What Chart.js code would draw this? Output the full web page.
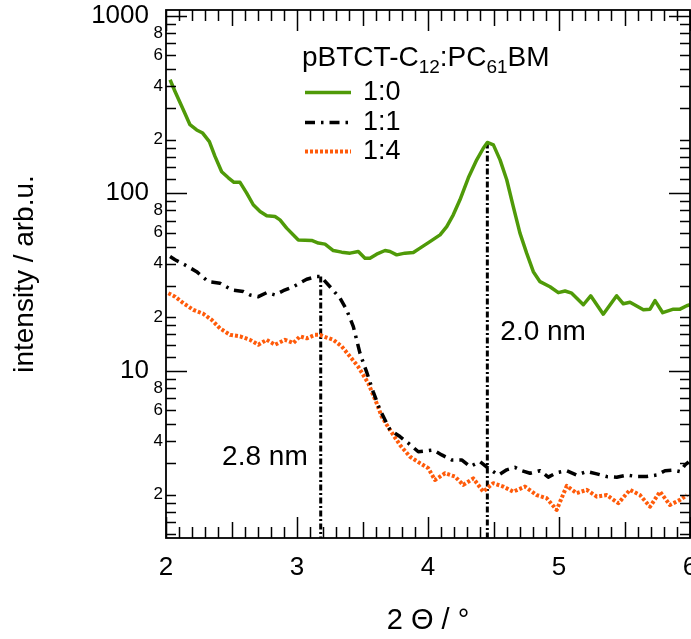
<!DOCTYPE html>
<html>
<head>
<meta charset="utf-8">
<script src="https://cdn.jsdelivr.net/npm/chart.js@4.4.1/dist/chart.umd.min.js"></script>
<style>
  html, body { margin: 0; padding: 0; background: #fff; }
  #c { display: block; }
</style>
</head>
<body>
<canvas id="c" width="691" height="639"></canvas>
<script>
// ---- diffraction data: 2θ (deg) and intensity (arb. units) ----
const theta10 = [2.031, 2.069, 2.132, 2.183, 2.234, 2.280, 2.331, 2.374, 2.425, 2.476, 2.519, 2.565, 2.616, 2.666, 2.718, 2.769, 2.832, 2.870, 2.921, 3.010, 3.112, 3.163, 3.214, 3.277, 3.341, 3.405, 3.468, 3.519, 3.557, 3.608, 3.672, 3.710, 3.761, 3.824, 3.888, 3.939, 4.015, 4.092, 4.143, 4.193, 4.244, 4.308, 4.372, 4.422, 4.453, 4.499, 4.550, 4.601, 4.651, 4.702, 4.753, 4.804, 4.855, 4.931, 4.995, 5.046, 5.097, 5.186, 5.242, 5.338, 5.440, 5.491, 5.542, 5.644, 5.695, 5.733, 5.792, 5.873, 5.924, 5.975, 6.000];
const int10 = [435, 374, 295, 243, 227, 218, 195, 161, 132, 122, 115, 115, 100, 86, 78.8, 74.5, 73.8, 70.7, 63.5, 54.5, 54.1, 52.3, 51.6, 47.5, 46.5, 45.9, 46.9, 43.0, 43.0, 45.3, 47.5, 46.9, 44.9, 45.9, 46.3, 49.0, 53.3, 58.2, 64.8, 75.5, 91.7, 122, 154, 179, 193, 187, 154, 119, 84.0, 59.5, 45.9, 36.1, 31.7, 29.7, 27.5, 28.1, 27.3, 23.5, 26.4, 20.8, 26.4, 23.8, 24.3, 22.0, 22.2, 24.8, 21.2, 22.2, 22.2, 23.2, 23.5];

const theta11 = [2.031, 2.069, 2.145, 2.234, 2.323, 2.412, 2.502, 2.590, 2.641, 2.705, 2.769, 2.832, 2.895, 2.972, 3.074, 3.150, 3.181, 3.201, 3.252, 3.328, 3.379, 3.430, 3.481, 3.532, 3.582, 3.634, 3.710, 3.786, 3.850, 3.926, 4.040, 4.105, 4.181, 4.257, 4.321, 4.397, 4.460, 4.537, 4.601, 4.664, 4.715, 4.779, 4.855, 4.918, 4.982, 5.059, 5.135, 5.212, 5.288, 5.364, 5.440, 5.517, 5.593, 5.669, 5.746, 5.809, 5.873, 5.924, 5.962, 5.990];
const int11 = [43.9, 42.1, 39.4, 36.1, 31.7, 31.1, 28.5, 27.9, 26.7, 26.1, 27.5, 26.7, 28.2, 29.7, 32.7, 33.9, 33.9, 32.7, 29.7, 25.6, 22.0, 17.7, 12.5, 9.8, 7.59, 6.0, 4.63, 4.25, 3.90, 3.49, 3.57, 3.35, 3.14, 3.14, 2.88, 3.07, 2.82, 2.58, 2.76, 2.85, 2.73, 2.64, 2.73, 2.51, 2.66, 2.73, 2.58, 2.70, 2.62, 2.53, 2.51, 2.58, 2.53, 2.53, 2.58, 2.73, 2.75, 2.70, 2.94, 3.06];

const theta14 = [2.018, 2.069, 2.132, 2.208, 2.285, 2.349, 2.412, 2.489, 2.565, 2.641, 2.705, 2.769, 2.832, 2.908, 2.972, 3.023, 3.074, 3.137, 3.176, 3.201, 3.277, 3.341, 3.405, 3.468, 3.544, 3.608, 3.647, 3.710, 3.786, 3.863, 3.939, 4.002, 4.053, 4.130, 4.206, 4.269, 4.346, 4.422, 4.498, 4.575, 4.651, 4.740, 4.830, 4.906, 4.982, 5.059, 5.135, 5.212, 5.288, 5.364, 5.453, 5.542, 5.618, 5.695, 5.771, 5.847, 5.924, 5.975];
const int14 = [27.3, 26.1, 24.0, 22.0, 20.9, 19.3, 17.3, 15.9, 15.6, 14.9, 14.0, 14.9, 14.0, 14.9, 14.3, 15.6, 15.2, 15.9, 15.9, 15.6, 14.9, 13.7, 12.0, 10.5, 8.49, 6.55, 5.50, 4.63, 3.81, 3.27, 3.01, 2.82, 2.42, 2.64, 2.53, 2.27, 2.47, 2.08, 2.32, 2.22, 2.08, 2.22, 1.99, 1.91, 1.64, 2.24, 2.04, 2.13, 1.95, 1.99, 1.79, 2.13, 1.99, 1.71, 2.08, 1.75, 1.87, 1.99];

// reflections marked with their d-spacing
const peakTheta = [3.181, 4.453];
const peakTop = [33.9, 193];
const peakLabels = ['2.8 nm', '2.0 nm'];

// axes
const xMin = 2, xMax = 6;
const yMin = 1.14, yMax = 1076;
const xMajorLabels = ['2', '3', '4', '5', '6'];
const yTickValues = [1.2, 1.4, 1.6, 1.8, 2, 3, 4, 5, 6, 7, 8, 9,
  10, 12, 14, 16, 18, 20, 30, 40, 50, 60, 70, 80, 90,
  100, 120, 140, 160, 180, 200, 300, 400, 500, 600, 700, 800, 900, 1000];
const yMajorValues = [10, 100, 1000];
const yMinorLabelValues = [2, 4, 6, 8, 20, 40, 60, 80, 200, 400, 600, 800];

const seriesNames = ['1:0', '1:1', '1:4'];
const legendTitle = [['pBTCT-C', false], ['12', true], [':PC', false], ['61', true], ['BM', false]];

const FONT = "'Liberation Sans', Arial, Helvetica, sans-serif";
const GREEN = '#4f9a08';
const ORANGE = '#ff5b0a';

const pts = (xs, ys) => xs.map((v, i) => ({ x: v, y: ys[i] }));

const datasets = [
  { label: seriesNames[0], data: pts(theta10, int10), borderColor: GREEN, borderWidth: 3.5, borderDash: [] },
  { label: seriesNames[1], data: pts(theta11, int11), borderColor: '#000', borderWidth: 3.5, borderDash: [10, 6, 2.5, 6] },
  { label: seriesNames[2], data: pts(theta14, int14), borderColor: ORANGE, borderWidth: 4, borderDash: [3, 2] }
].map(d => Object.assign(d, { pointRadius: 0, tension: 0, fill: false, borderJoinStyle: 'round' }));

peakTheta.forEach((t, i) => {
  datasets.push({
    label: peakLabels[i], data: [{ x: t, y: peakTop[i] }, { x: t, y: yMin }],
    borderColor: '#000', borderWidth: 3, borderDash: [6, 2.5, 2, 2.5], pointRadius: 0, fill: false
  });
});

const framePlugin = {
  id: 'frameTicks',
  afterDatasetsDraw(chart) {
    const { ctx, chartArea: a, scales: { x, y } } = chart;
    ctx.save();
    ctx.strokeStyle = '#000';
    ctx.fillStyle = '#000';

    // inward ticks on all four sides
    ctx.lineWidth = 1.5;
    ctx.beginPath();
    for (let i = 0; i <= (xMax - xMin) * 10; i++) {
      const px = Math.round(x.getPixelForValue(xMin + i / 10)) + 0.5;
      const len = i % 10 === 0 ? 21 : (i % 5 === 0 ? 16 : 11);
      ctx.moveTo(px, a.bottom); ctx.lineTo(px, a.bottom - len);
      ctx.moveTo(px, a.top); ctx.lineTo(px, a.top + len);
    }
    yTickValues.forEach(v => {
      const py = Math.round(y.getPixelForValue(v)) + 0.5;
      const len = yMajorValues.includes(v) ? 21 : 10;
      ctx.moveTo(a.left, py); ctx.lineTo(a.left + len, py);
      ctx.moveTo(a.right, py); ctx.lineTo(a.right - len, py);
    });
    ctx.stroke();

    // frame
    ctx.lineWidth = 1.8;
    ctx.strokeRect(a.left, a.top, a.right - a.left, a.bottom - a.top);

    // y tick labels
    ctx.textAlign = 'right';
    ctx.textBaseline = 'middle';
    ctx.font = `26px ${FONT}`;
    yMajorValues.forEach(v => ctx.fillText(String(v), a.left - 17, y.getPixelForValue(v)));
    ctx.font = `17px ${FONT}`;
    yMinorLabelValues.forEach(v => {
      const digit = String(v)[0];
      ctx.fillText(digit, a.left - 3, y.getPixelForValue(v));
    });

    // d-spacing labels next to the marker lines
    ctx.font = `28px ${FONT}`;
    ctx.textAlign = 'right';
    ctx.fillText(peakLabels[0], x.getPixelForValue(peakTheta[0]) - 13, 457);
    ctx.textAlign = 'left';
    ctx.fillText(peakLabels[1], x.getPixelForValue(peakTheta[1]) + 13, 332);

    // legend
    let lx = 302;
    ctx.textAlign = 'left';
    ctx.textBaseline = 'alphabetic';
    legendTitle.forEach(([t, sub]) => {
      ctx.font = sub ? `19px ${FONT}` : `28px ${FONT}`;
      ctx.fillText(t, lx, sub ? 73 : 66);
      lx += ctx.measureText(t).width;
    });
    const rows = [92.5, 122.5, 151.5];
    ctx.textBaseline = 'middle';
    ctx.font = `27px ${FONT}`;
    seriesNames.forEach((name, i) => {
      const ds = chart.data.datasets[i];
      ctx.save();
      ctx.strokeStyle = ds.borderColor;
      ctx.lineWidth = ds.borderWidth;
      ctx.setLineDash(ds.borderDash);
      ctx.beginPath();
      ctx.moveTo(305, rows[i]); ctx.lineTo(351, rows[i]);
      ctx.stroke();
      ctx.restore();
      ctx.fillText(name, 363, rows[i]);
    });
    ctx.restore();
  }
};

new Chart(document.getElementById('c'), {
  type: 'line',
  data: { datasets },
  options: {
    responsive: false,
    animation: false,
    devicePixelRatio: 1,
    layout: { padding: { top: 10, right: 1, left: 0, bottom: 0 } },
    plugins: { legend: { display: false }, tooltip: { enabled: false } },
    scales: {
      x: {
        type: 'linear', min: xMin, max: xMax,
        grid: { display: false, drawTicks: false },
        border: { display: false },
        ticks: {
          stepSize: 1, padding: 14, color: '#000',
          font: { family: FONT, size: 26 },
          callback: v => xMajorLabels.includes(String(v)) ? String(v) : ''
        },
        title: { display: true, text: '2 Θ / °', color: '#000', font: { family: FONT, size: 29 }, padding: { top: 0, bottom: 1 } },
        afterFit: s => { s.height = 101; s.paddingLeft = 0; s.paddingRight = 0; }
      },
      y: {
        type: 'logarithmic', min: yMin, max: yMax,
        grid: { display: false, drawTicks: false },
        border: { display: false },
        ticks: { display: false },
        title: { display: true, text: 'intensity / arb.u.', color: '#000', font: { family: FONT, size: 28 }, padding: { top: 8, bottom: 0 } },
        afterFit: s => { s.width = 166; s.paddingTop = 0; s.paddingBottom = 0; }
      }
    }
  },
  plugins: [framePlugin]
});
</script>
</body>
</html>
